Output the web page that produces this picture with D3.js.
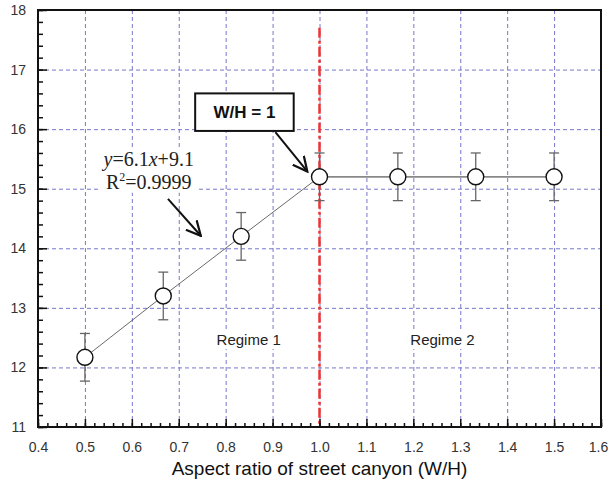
<!DOCTYPE html>
<html lang="en">
<head>
<meta charset="UTF-8">
<title>Aspect ratio of street canyon</title>
<script src="https://d3js.org/d3.v7.min.js"></script>
<style>
  body { margin: 0; background: #fff; font-family: Arial, "Liberation Sans", sans-serif; }
  .grid line { stroke: #7777cc; stroke-dasharray: 4,3; stroke-width: 1; }
  .grid .domain { display: none; }
  .tick text { font-size: 14px; fill: #333; font-family: Arial, "Liberation Sans", sans-serif; }
</style>
</head>
<body>
<svg id="chart" width="609" height="483"></svg>
<script>
// data
const ratio = [0.5, 0.667, 0.833, 1.0, 1.167, 1.333, 1.5];
const value = [12.17, 13.2, 14.2, 15.2, 15.2, 15.2, 15.2];
const err = [0.4, 0.4, 0.4, 0.4, 0.4, 0.4, 0.4];
const xTicks = [0.4, 0.5, 0.6, 0.7, 0.8, 0.9, 1.0, 1.1, 1.2, 1.3, 1.4, 1.5, 1.6];
const yTicks = [11, 12, 13, 14, 15, 16, 17, 18];
const regimes = [{ label: "Regime 1", x: 0.849, y: 12.46 }, { label: "Regime 2", x: 1.262, y: 12.46 }];

const svg = d3.select("#chart");
const margin = { top: 10, right: 8, bottom: 56, left: 38 };
const width = 609 - margin.left - margin.right;
const height = 483 - margin.top - margin.bottom;

const x = d3.scaleLinear().domain([0.4, 1.6]).range([0, width]);
const y = d3.scaleLinear().domain([11, 18]).range([height, 0]);

const g = svg.append("g").attr("transform", `translate(${margin.left},${margin.top})`);

// grid
g.append("g").attr("class", "grid")
  .call(d3.axisLeft(y).tickValues(yTicks.slice(1, -1)).tickSize(-width).tickFormat(""));
g.append("g").attr("class", "grid").attr("transform", `translate(0,${height})`)
  .call(d3.axisBottom(x).tickValues(xTicks.slice(1, -1)).tickSize(-height).tickFormat(""));

// white backing behind a text node
function backing(t, pad) {
  const b = t.node().getBBox();
  g.insert("rect", () => t.node())
    .attr("x", b.x - pad).attr("y", b.y - 1).attr("width", b.width + 2 * pad).attr("height", b.height + 2)
    .attr("fill", "#fff");
}

// regime labels
regimes.forEach(r => {
  const t = g.append("text")
    .attr("x", x(r.x)).attr("y", y(r.y) + 5)
    .attr("text-anchor", "middle")
    .style("font-size", "15px").attr("fill", "#222")
    .text(r.label);
  backing(t, 3);
});

// equation
const eq = g.append("g").style("font-family", "'Liberation Serif', 'Times New Roman', serif").style("font-size", "20px").attr("fill", "#222");
const t1 = eq.append("text").attr("x", x(0.636)).attr("y", y(15.38)).attr("text-anchor", "middle");
t1.append("tspan").style("font-style", "italic").text("y");
t1.append("tspan").text("=6.1");
t1.append("tspan").style("font-style", "italic").text("x");
t1.append("tspan").text("+9.1");
const t2 = eq.append("text").attr("x", x(0.636)).attr("y", y(15.0)).attr("text-anchor", "middle");
t2.append("tspan").text("R");
t2.append("tspan").attr("dy", -8).style("font-size", "12px").text("2");
t2.append("tspan").attr("dy", 8).text("=0.9999");
const eb1 = t1.node().getBBox(), eb2 = t2.node().getBBox();
eq.insert("rect", "text")
  .attr("x", Math.min(eb1.x, eb2.x) - 2).attr("y", eb1.y)
  .attr("width", Math.max(eb1.width, eb2.width) + 4).attr("height", eb2.y + eb2.height - eb1.y)
  .attr("fill", "#fff");

// W/H = 1 line
g.append("line")
  .attr("x1", x(1.0)).attr("x2", x(1.0))
  .attr("y1", y(17.7)).attr("y2", height)
  .attr("stroke", "#ee3333").attr("stroke-width", 2.5)
  .attr("stroke-dasharray", "10,3,3,3");

// connecting line
const line = d3.line().x((d, i) => x(ratio[i])).y(d => y(d));
g.append("path").datum(value.slice(0, 4))
  .attr("d", line).attr("fill", "none").attr("stroke", "#444").attr("stroke-width", 0.8);
g.append("path").datum(value.slice(3))
  .attr("d", d3.line().x((d, i) => x(ratio[i + 3])).y(d => y(d)))
  .attr("fill", "none").attr("stroke", "#888").attr("stroke-width", 1.8);

// error bars
const eb = g.selectAll(".eb").data(value).enter().append("g").attr("class", "eb")
  .attr("stroke", "#666").attr("stroke-width", 1.3);
eb.append("line")
  .attr("x1", (d, i) => x(ratio[i])).attr("x2", (d, i) => x(ratio[i]))
  .attr("y1", (d, i) => y(d + err[i])).attr("y2", (d, i) => y(d - err[i]));
[1, -1].forEach(s => {
  eb.append("line")
    .attr("x1", (d, i) => x(ratio[i]) - 5).attr("x2", (d, i) => x(ratio[i]) + 5)
    .attr("y1", (d, i) => y(d + s * err[i])).attr("y2", (d, i) => y(d + s * err[i]));
});

// markers
g.selectAll(".pt").data(value).enter().append("circle")
  .attr("cx", (d, i) => x(ratio[i])).attr("cy", d => y(d)).attr("r", 8)
  .attr("fill", "#fff").attr("stroke", "#111").attr("stroke-width", 1.4);

// axes with inward ticks
const minorX = d3.range(0.4, 1.6001, 0.02);
const minorY = d3.range(11, 18.001, 0.2);
const axB = g.append("g").attr("transform", `translate(0,${height})`);
axB.call(d3.axisBottom(x).tickValues(minorX).tickSize(-4).tickFormat(""));
axB.append("g").call(d3.axisBottom(x).tickValues(xTicks).tickSize(-8).tickPadding(15).tickFormat(d3.format(".1f")));
axB.selectAll(".tick text").filter(d => d === 1.6).attr("dx", -3);
const axL = g.append("g");
axL.call(d3.axisLeft(y).tickValues(minorY).tickSize(-5).tickFormat(""));
axL.append("g").call(d3.axisLeft(y).tickValues(yTicks).tickSize(-9).tickPadding(12).tickFormat(d3.format("d")));
g.selectAll(".domain").filter(function () { return !this.closest(".grid"); }).remove();
g.selectAll(".tick line").filter(function () { return !this.closest(".grid"); })
  .attr("stroke", "#111").attr("stroke-width", 1.5);

// frame
g.append("rect").attr("width", width).attr("height", height)
  .attr("fill", "none").attr("stroke", "#111").attr("stroke-width", 2);

// arrow marker
const defs = svg.append("defs");
defs.append("marker").attr("id", "arr").attr("viewBox", "0 0 10 10")
  .attr("refX", 9).attr("refY", 5).attr("markerWidth", 8).attr("markerHeight", 8)
  .attr("orient", "auto")
  .append("path").attr("d", "M0,0.5 L9,5 L0,9.5").attr("fill", "none").attr("stroke", "#111").attr("stroke-width", 1.4);

g.append("line")
  .attr("x1", x(0.677)).attr("y1", y(14.83)).attr("x2", x(0.747)).attr("y2", y(14.21))
  .attr("stroke", "#111").attr("stroke-width", 2).attr("marker-end", "url(#arr)");

// W/H box
g.append("rect").attr("x", x(0.735)).attr("y", y(16.6)).attr("width", x(0.945) - x(0.735)).attr("height", y(15.97) - y(16.6))
  .attr("fill", "#fff").attr("stroke", "#111").attr("stroke-width", 2);
g.append("text").attr("x", x(0.84)).attr("y", y(16.28) + 6).attr("text-anchor", "middle")
  .style("font-size", "17px").style("font-weight", "bold").attr("fill", "#111").text("W/H = 1");
g.append("line")
  .attr("x1", x(0.906)).attr("y1", y(15.95)).attr("x2", x(0.974)).attr("y2", y(15.29))
  .attr("stroke", "#111").attr("stroke-width", 2).attr("marker-end", "url(#arr)");

// x title
svg.append("text")
  .attr("x", margin.left + width / 2).attr("y", 475)
  .attr("text-anchor", "middle").style("font-size", "19px").attr("fill", "#111")
  .text("Aspect ratio of street canyon (W/H)");
</script>
</body>
</html>
